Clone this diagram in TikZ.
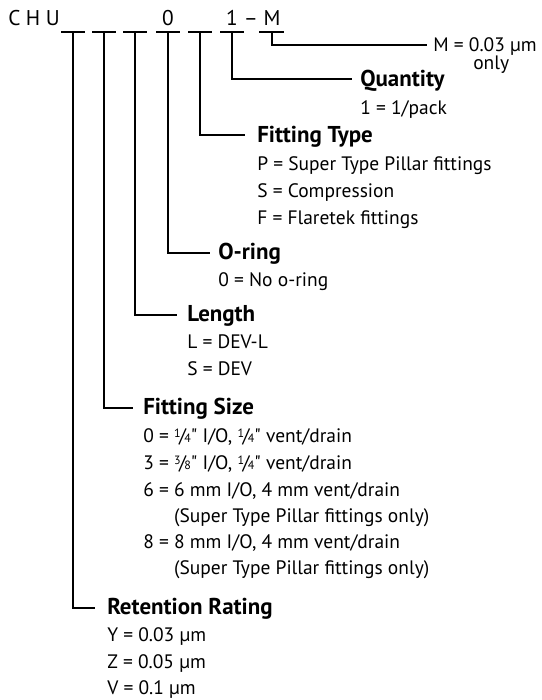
\documentclass[tikz,border=0pt]{standalone}
\usepackage{fontspec}
\setmainfont{PT Sans}[Ligatures=TeXOff]
\newfontfamily\codefont[LetterSpace=26]{PT Sans}
\newcommand{\myfrac}[2]{\raisebox{0.45ex}{\fontsize{9}{9}\selectfont #1}\kern-0.08em/\kern-0.08em{\fontsize{9}{9}\selectfont #2}}
\begin{document}
\begin{tikzpicture}[x=0.75pt,y=-0.75pt,
  lbl/.style={anchor=base west,inner sep=0pt,font=\fontsize{14.6}{17}\selectfont},
  head/.style={anchor=base west,inner sep=0pt,font=\fontsize{17.2}{20}\selectfont\bfseries},
  code/.style={anchor=base,inner sep=0pt,font=\fontsize{16}{18}\selectfont},
  conn/.style={line width=1.4pt},
  uline/.style={line width=1.2pt}]
\useasboundingbox (0,0) rectangle (542,700);

% code line
\node[anchor=base west,inner sep=0pt,font=\fontsize{16}{18}\codefont] (chu) at (8,25) {CHU};
\node[code] (c4) at (168,25) {0};
\node[code] (c6) at (232,25) {1};
\node[code] (dash) at (251,25) {–};
\node[code] (c7) at (272,25) {M};

% underlines
\foreach \a/\b in {61/85,92/116,123/147,156/180,188/212,220/244,259/284}
  \draw[uline] (\a,32) -- (\b,32);

% underline anchor points
\coordinate (u1) at (73,32);
\coordinate (u2) at (104,32);
\coordinate (u3) at (135,32);
\coordinate (u4) at (168,32);
\coordinate (u5) at (200,32);
\coordinate (u6) at (232,32);
\coordinate (u7) at (272,32);

% M
\coordinate (e7) at (427,45);
\node[lbl] (mval) at (433,51) {M = 0.03 µm};
\node[lbl] (monly) at (473,69) {only};

% Quantity
\coordinate (e6) at (352,79);
\node[head] (hq) at (360,86) {Quantity};
\node[lbl] (q1) at (360,114) {1 = 1/pack};

% Fitting Type
\coordinate (e5) at (245,135);
\node[head] (hft) at (257,142) {Fitting Type};
\node[lbl] (ft1) at (257,170) {P = Super Type Pillar fittings};
\node[lbl] (ft2) at (257,197) {S = Compression};
\node[lbl] (ft3) at (257,224) {F = Flaretek fittings};

% O-ring
\coordinate (e4) at (210,253);
\node[head] (ho) at (218,259) {O-ring};
\node[lbl] (o1) at (218,286) {0 = No o-ring};

% Length
\coordinate (e3) at (177,315);
\node[head] (hl) at (187,321) {Length};
\node[lbl] (l1) at (187,348) {L = DEV-L};
\node[lbl] (l2) at (187,375) {S = DEV};

% Fitting Size
\coordinate (e2) at (133,408);
\node[head] (hfs) at (143,414) {Fitting Size};
\node[lbl] (fs1) at (143,442) {0 = \myfrac{1}{4}" I/O, \myfrac{1}{4}" vent/drain};
\node[lbl] (fs2) at (143,469) {3 = \myfrac{3}{8}" I/O, \myfrac{1}{4}" vent/drain};
\node[lbl] (fs3) at (143,496) {6 = 6 mm I/O, 4 mm vent/drain};
\node[lbl] (fs4) at (143,522) {\phantom{6 = }(Super Type Pillar fittings only)};
\node[lbl] (fs5) at (143,548) {8 = 8 mm I/O, 4 mm vent/drain};
\node[lbl] (fs6) at (143,574) {\phantom{8 = }(Super Type Pillar fittings only)};

% Retention Rating
\coordinate (e1) at (95,608);
\node[head] (hr) at (107,614) {Retention Rating};
\node[lbl] (r1) at (107,641) {Y = 0.03 µm};
\node[lbl] (r2) at (107,668) {Z = 0.05 µm};
\node[lbl] (r3) at (107,694) {V = 0.1 µm};

% connectors
\foreach \i in {1,...,7}
  \draw[conn] (u\i) |- (e\i);
\end{tikzpicture}
\end{document}
